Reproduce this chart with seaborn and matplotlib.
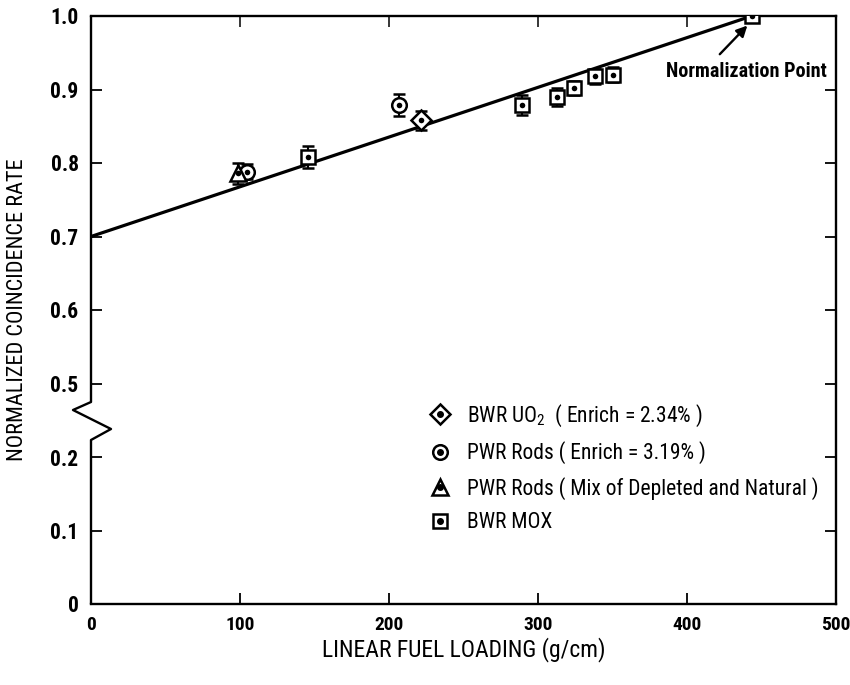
import numpy as np
import pandas as pd
import matplotlib
matplotlib.use("Agg")
import matplotlib.pyplot as plt
from matplotlib.lines import Line2D
from matplotlib import font_manager as fm
import seaborn as sns

# ---------------- data ----------------
bwr_uo2_x = [221.5]
bwr_uo2_y = [0.858]
bwr_uo2_err = [0.013]

pwr_x = [104.7, 206.7]
pwr_y = [0.788, 0.879]
pwr_err = [0.010, 0.015]

mix_x = [98.5]
mix_y = [0.786]
mix_err = [0.014]

mox_x = [145.5, 289.0, 313.0, 324.0, 338.0, 350.0, 443.5]
mox_y = [0.808, 0.879, 0.890, 0.902, 0.918, 0.920, 1.000]
mox_err = [0.015, 0.014, 0.012, 0.010, 0.010, 0.010, 0.000]

fit_x = [0.0, 443.5]
fit_y = [0.700, 1.000]

x_ticks = [0, 100, 200, 300, 400, 500]
y_ticks = [0.0, 0.1, 0.2, 0.5, 0.6, 0.7, 0.8, 0.9, 1.0]
y_ticklabels = ["0", "0.1", "0.2", "0.5", "0.6", "0.7", "0.8", "0.9", "1.0"]

labels = ["BWR UO$_2$  ( Enrich = 2.34% )",
          "PWR Rods ( Enrich = 3.19% )",
          "PWR Rods ( Mix of Depleted and Natural )",
          "BWR MOX"]

# ---------------- style ----------------
sns.set_theme(style="ticks")
names = {f.name for f in fm.fontManager.ttflist}
FAM = ["DejaVu Sans"]
STRETCH = "condensed"
for cand in ["Liberation Sans Narrow", "Roboto Condensed", "Open Sans Condensed",
             "DejaVu Sans Condensed", "Noto Sans Condensed"]:
    if cand in names:
        FAM = [cand, "DejaVu Sans"]
        break
plt.rcParams["font.family"] = FAM
plt.rcParams["font.stretch"] = STRETCH
plt.rcParams["mathtext.fontset"] = "custom"
plt.rcParams["mathtext.rm"] = FAM[0] + ":stretch=condensed"

fig = plt.figure(figsize=(8.5, 6.85), dpi=100)
ax = fig.add_axes([91 / 850, 1 - 604 / 685, 745 / 850, 588 / 685])


def fwd(v):
    v = np.asarray(v, dtype=float)
    return np.where(v <= 0.2, v, np.where(v >= 0.5, v - 0.2, 0.2 + (v - 0.2) / 3.0))


def inv(p):
    p = np.asarray(p, dtype=float)
    return np.where(p <= 0.2, p, np.where(p >= 0.3, p + 0.2, 0.2 + (p - 0.2) * 3.0))


ax.set_yscale("function", functions=(fwd, inv))
ax.set_xlim(0, 500)
ax.set_ylim(0, 1.0)

# fitted line
sns.lineplot(x=fit_x, y=fit_y, ax=ax, color="black", lw=2.3, zorder=2)

mk_kw = dict(mfc="white", mec="black", mew=1.8, color="black",
             elinewidth=1.5, capthick=1.5, capsize=4.3, ls="none", zorder=3)

series = [
    (bwr_uo2_x, bwr_uo2_y, bwr_uo2_err, "D", 10.5),
    (pwr_x, pwr_y, pwr_err, "o", 10.5),
    (mix_x, mix_y, mix_err, "^", 11.5),
    (mox_x, mox_y, mox_err, "s", 10.0),
]
handles = []
for xs, ys, es, m, ms in series:
    ax.errorbar(xs, ys, yerr=es, marker=m, ms=ms, **mk_kw)
    sns.scatterplot(x=xs, y=ys, ax=ax, marker="o", s=16, color="black",
                    edgecolor="black", linewidth=0, zorder=4)
    h_outer = Line2D([], [], marker=m, ms=ms, mfc="white", mec="black",
                     mew=1.8, ls="none")
    h_dot = Line2D([], [], marker="o", ms=4, color="black", ls="none")
    handles.append((h_outer, h_dot))

# axes styling
for s in ["top", "right", "bottom"]:
    ax.spines[s].set_linewidth(1.7)
    ax.spines[s].set_color("black")
ax.spines["left"].set_visible(False)

# broken left axis drawn by hand
bx = [0, 0, -18 / 745, 20 / 745, 0, 0]
by = [1.0, (604 - 402) / 588, (604 - 410) / 588, (604 - 429) / 588, (604 - 440) / 588, 0.0]
ax.add_line(Line2D(bx, by, transform=ax.transAxes, color="black", lw=1.7,
                   clip_on=False, zorder=5))

ax.set_xticks(x_ticks)
ax.set_xticklabels([str(t) for t in x_ticks])
ax.set_yticks(y_ticks)
ax.set_yticklabels(y_ticklabels)
ax.minorticks_off()
ax.tick_params(axis="both", which="major", direction="in", length=8, width=1.3,
               colors="black", top=False, right=True, pad=9)
ax.tick_params(axis="y", labelsize=15.5)
ax.tick_params(axis="x", labelsize=14)
sec = ax.secondary_xaxis("top")
sec.set_xticks([100, 200, 300, 400])
sec.tick_params(direction="in", length=8, width=1.3, labeltop=False)
sec.spines["top"].set_visible(False)
for lab in ax.get_xticklabels() + ax.get_yticklabels():
    lab.set_fontweight("bold")
    lab.set_fontstretch(STRETCH)

ax.set_xlabel("LINEAR FUEL LOADING (g/cm)", fontsize=17, labelpad=2, color="black",
              fontstretch=STRETCH)
ax.set_ylabel("NORMALIZED COINCIDENCE RATE", fontsize=16, labelpad=16, color="black",
              fontstretch=STRETCH)

# annotation
ax.annotate("", xy=(440.5, 0.987), xytext=(422, 0.948),
            arrowprops=dict(arrowstyle="-|>", color="black", lw=1.7,
                            mutation_scale=16, shrinkA=0, shrinkB=0))
ax.text(440, 0.924, "Normalization Point", ha="center", va="center",
        fontsize=14.5, fontweight="bold", color="black", fontstretch=STRETCH)

leg = ax.legend(handles, labels, loc="upper left",
                bbox_to_anchor=(0.442, 0.357), frameon=False,
                prop=dict(size=15.5, stretch=STRETCH),
                handlelength=1.0, handletextpad=0.75, labelspacing=0.58,
                borderaxespad=0)
for t in leg.get_texts():
    t.set_color("black")

fig.savefig("out.png", dpi=100)
